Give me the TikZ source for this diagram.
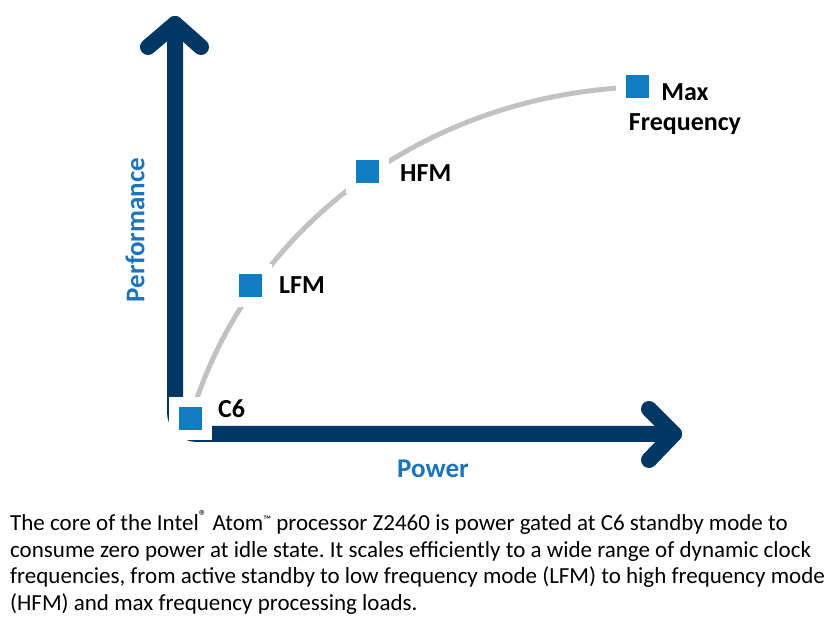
\documentclass[tikz,border=0pt]{standalone}
\usepackage{fontspec}
\setmainfont{Carlito}
\frenchspacing
\definecolor{axisnavy}{RGB}{0,56,99}
\definecolor{ptblue}{RGB}{16,124,193}
\definecolor{lblblue}{RGB}{28,117,188}
\definecolor{curvegray}{RGB}{194,194,194}
\newcommand{\tmsign}{\raisebox{6.5pt}{\fontsize{11}{11}\selectfont ™}}
\tikzset{
  axisline/.style={draw=axisnavy, line width=16pt, line cap=round, line join=round},
  curveline/.style={draw=curvegray, line width=5pt},
  ptbox/.style={draw=white, line width=10pt, fill=ptblue, minimum size=33pt, inner sep=0pt},
  ptlabel/.style={font=\fontsize{26}{30}\selectfont\bfseries, inner sep=0pt},
  axislabel/.style={font=\fontsize{27}{29}\selectfont\bfseries, text=lblblue, inner sep=0pt},
  captext/.style={font=\fontsize{23}{26.7}\selectfont, inner sep=0pt, align=left},
}
\begin{document}
\begin{tikzpicture}[x=1pt,y=1pt]
				\useasboundingbox (0,0) rectangle (834,628);

				\coordinate (O) at (175,194);
				\coordinate (ytip) at (175,604);
				\coordinate (xtip) at (674,194);
				\coordinate (c6p) at (190.5,209.5);
				\coordinate (lfmp) at (250.5,342.5);
				\coordinate (hfmp) at (367.5,456.5);
				\coordinate (maxp) at (637,541);

				\draw[axisline, rounded corners=22pt] (ytip) -- (O) -- (xtip);
				\draw[axisline] (148,581) -- (ytip) -- (201,581);
				\draw[axisline] (649,219) -- (xtip) -- (649,168);

				\draw[curveline] (c6p) .. controls (245,395) and (420,533) .. (maxp);

				\node[ptbox] (c6) at (c6p) {};
				\node[ptbox] (lfm) at (lfmp) {};
				\node[ptbox] (hfm) at (hfmp) {};
				\node[ptbox] (maxf) at (maxp) {};

				\node[ptlabel, anchor=base west] (c6l) at (218,210) {C6};
				\node[ptlabel, anchor=base west] (lfml) at (279,334) {LFM};
				\node[ptlabel, anchor=base west] (hfml) at (400,446) {HFM};
				\node[ptlabel, anchor=north, align=center] (maxl) at (685,545) {Max\\Frequency};

				\node[axislabel, rotate=90] (perf) at (135,398) {Performance};
				\node[axislabel, anchor=base west] (pwr) at (397,150) {Power};

				\node[captext, anchor=north west] (cap) at (10,118) {The core of the Intel\textsuperscript{®} Atom\tmsign{} processor Z2460 is power gated at C6 standby mode to\\consume zero power at idle state. It scales efficiently to a wide range of dynamic clock\\frequencies, from active standby to low frequency mode (LFM) to high frequency mode\\(HFM) and max frequency processing loads.};
			\end{tikzpicture}
\end{document}
